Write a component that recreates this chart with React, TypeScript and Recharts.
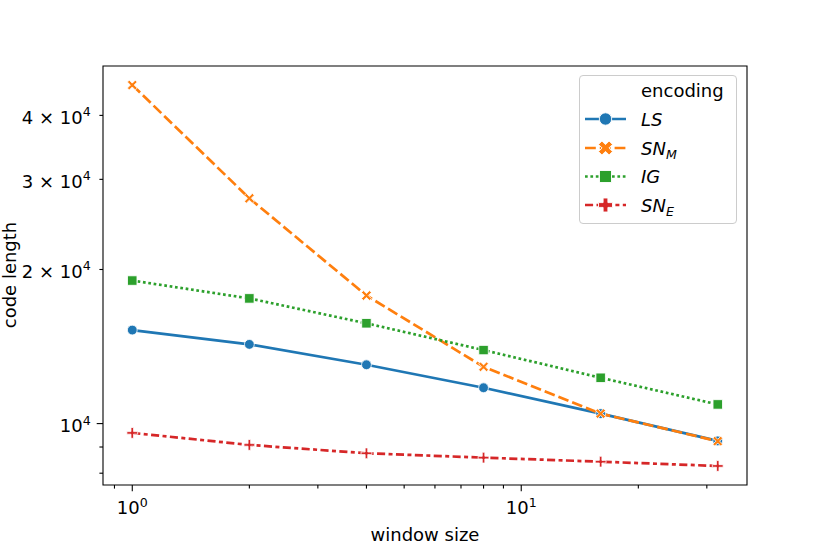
import { LineChart, Line, XAxis, YAxis, ReferenceArea, Legend } from 'recharts';

const FONT = '"DejaVu Sans", sans-serif';

// window sizes on the x axis
const windowSizes = [1, 2, 4, 8, 16, 32];

// code length per encoding
const lsValues = [15230, 14280, 13030, 11750, 10460, 9250];
const snmValues = [45850, 27550, 17790, 12910, 10460, 9240];
const igValues = [19030, 17560, 15700, 13920, 12290, 10900];
const sneValues = [9590, 9085, 8750, 8580, 8425, 8265];

// ticks
const xTicks = [0.9, 1, 2, 3, 4, 5, 6, 7, 8, 9, 10, 20, 30];
const xMajorTicks = [1, 10];
const yTicks = [8000, 9000, 10000, 20000, 30000, 40000];
const yMajorTicks = [10000];
const yLabelMantissa: Record<number, string> = { 10000: '', 20000: '2', 30000: '3', 40000: '4' };

type MarkerKind = 'circle' | 'x' | 'square' | 'plus';

const series = [
  { key: 'LS', values: lsValues, main: 'LS', sub: '', color: '#1f77b4', dash: undefined, marker: 'circle' as MarkerKind },
  { key: 'SN_M', values: snmValues, main: 'SN', sub: 'M', color: '#ff7f0e', dash: '10.8 4', marker: 'x' as MarkerKind },
  { key: 'IG', values: igValues, main: 'IG', sub: '', color: '#2ca02c', dash: '2.7 2.7', marker: 'square' as MarkerKind },
  { key: 'SN_E', values: sneValues, main: 'SN', sub: 'E', color: '#d62728', dash: '8.1 3.4 4 3.4', marker: 'plus' as MarkerKind },
];

const data = windowSizes.map((w, i) => {
  const row: Record<string, number> = { w };
  series.forEach((s) => (row[s.key] = s.values[i]));
  return row;
});

// matplotlib-like 5% margins in log space
function logPad(vals: number[], frac = 0.05): [number, number] {
  const lo = Math.log10(Math.min(...vals));
  const hi = Math.log10(Math.max(...vals));
  const r = hi - lo;
  return [Math.pow(10, lo - frac * r), Math.pow(10, hi + frac * r)];
}

const xDomain = logPad(windowSizes);
const yDomain = logPad(series.flatMap((s) => s.values));

function plusPoints(s: number, a: number, rot: number) {
  const pts = [
    [-a, -s], [a, -s], [a, -a], [s, -a], [s, a], [a, a],
    [a, s], [-a, s], [-a, a], [-s, a], [-s, -a], [-a, -a],
  ];
  const c = Math.cos(rot);
  const sn = Math.sin(rot);
  return pts.map(([x, y]) => `${x * c - y * sn},${x * sn + y * c}`).join(' ');
}

function Marker({ kind, cx, cy, color, big = false }: { kind: MarkerKind; cx: number; cy: number; color: string; big?: boolean }) {
  const sw = big ? 0.9 : 0.8;
  if (kind === 'circle') return <circle cx={cx} cy={cy} r={big ? 6.2 : 4.9} fill={color} stroke="#fff" strokeWidth={sw} />;
  if (kind === 'square') {
    const h = big ? 6 : 4.7;
    return <rect x={cx - h} y={cy - h} width={2 * h} height={2 * h} fill={color} stroke="#fff" strokeWidth={sw} />;
  }
  if (kind === 'x')
    return (
      <polygon
        transform={`translate(${cx},${cy})`}
        points={big ? plusPoints(7.5, 2.4, Math.PI / 4) : plusPoints(5.6, 1.35, Math.PI / 4)}
        fill={color}
        stroke="#fff"
        strokeWidth={sw}
      />
    );
  return (
    <polygon
      transform={`translate(${cx},${cy})`}
      points={big ? plusPoints(7, 2.4, 0) : plusPoints(5.4, 1.3, 0)}
      fill={color}
      stroke="#fff"
      strokeWidth={sw}
    />
  );
}

function makeDot(kind: MarkerKind, color: string) {
  return (props: any) => {
    const { cx, cy, index } = props;
    if (cx == null || cy == null) return <g key={index} />;
    return <Marker key={index} kind={kind} cx={cx} cy={cy} color={color} />;
  };
}

function XTick({ x, y, payload }: any) {
  const v = payload.value;
  const major = xMajorTicks.includes(v);
  return (
    <g>
      <line x1={x} x2={x} y1={y} y2={y + (major ? 6.3 : 3.6)} stroke="#000" strokeWidth={1.1} />
      {major && (
        <text x={x} y={y + 29} textAnchor="middle" fontSize={18} fontFamily={FONT} fill="#000">
          10<tspan dy={-7.5} fontSize={12.6}>{Math.round(Math.log10(v))}</tspan>
        </text>
      )}
    </g>
  );
}

function YTick({ x, y, payload }: any) {
  const v = payload.value;
  const major = yMajorTicks.includes(v);
  const m = yLabelMantissa[v];
  return (
    <g>
      <line x1={x} x2={x - (major ? 6.3 : 3.6)} y1={y} y2={y} stroke="#000" strokeWidth={1.1} />
      {m !== undefined && (
        <text x={x - 12.3} y={y + 8.5} textAnchor="end" fontSize={18} fontFamily={FONT} fill="#000">
          {m ? `${m} × 10` : '10'}
          <tspan dy={-7.5} fontSize={12.6}>4</tspan>
        </text>
      )}
    </g>
  );
}

function LegendBox() {
  const rows = [44, 73, 101.5, 130];
  return (
    <div
      style={{
        width: 158,
        height: 149,
        boxSizing: 'border-box',
        border: '1.3px solid #cccccc',
        borderRadius: 4,
        background: 'rgba(255,255,255,0.8)',
      }}
    >
      <svg width={156} height={147} style={{ display: 'block', position: 'absolute', left: 0, top: 0 }}>
        <text x={62} y={22} fontSize={18} fontFamily={FONT} fill="#000">
          encoding
        </text>
        {series.map((s, i) => (
          <g key={s.key}>
            <line x1={6} x2={47} y1={rows[i]} y2={rows[i]} stroke={s.color} strokeWidth={2.7} strokeDasharray={s.dash} />
            <Marker kind={s.marker} cx={26.5} cy={rows[i]} color={s.color} big />
            <text x={62} y={rows[i] + 6.5} fontSize={18} fontFamily={FONT} fontStyle="italic" fill="#000">
              {s.main}
              {s.sub && (
                <tspan dy={4} fontSize={12.6}>
                  {s.sub}
                </tspan>
              )}
            </text>
          </g>
        ))}
      </svg>
    </div>
  );
}

export default function App() {
  return (
    <div style={{ position: 'absolute', left: 0, top: 0, width: 830, height: 554, background: '#fff' }}>
      <LineChart width={830} height={554} data={data} margin={{ top: 66, right: 83, bottom: 0, left: 0 }}>
        <XAxis
          dataKey="w"
          type="number"
          scale="log"
          domain={xDomain}
          allowDataOverflow
          ticks={xTicks}
          interval={0}
          tick={<XTick />}
          tickLine={false}
          axisLine={false}
          tickSize={0}
          tickMargin={0}
          height={69}
        />
        <YAxis
          type="number"
          scale="log"
          domain={yDomain}
          allowDataOverflow
          ticks={yTicks}
          interval={0}
          tick={<YTick />}
          tickLine={false}
          axisLine={false}
          tickSize={0}
          tickMargin={0}
          width={103}
        />
        <Legend
          layout="vertical"
          align="center"
          verticalAlign="middle"
          content={<LegendBox />}
          wrapperStyle={{ position: 'absolute', left: 579, top: 75, width: 158, height: 149 }}
        />
        {series.map((s) => (
          <Line
            key={s.key}
            dataKey={s.key}
            name={s.key}
            type="linear"
            stroke={s.color}
            strokeWidth={2.7}
            strokeDasharray={s.dash}
            dot={makeDot(s.marker, s.color)}
            activeDot={false}
            isAnimationActive={false}
          />
        ))}
        <ReferenceArea
          x1={xDomain[0]}
          x2={xDomain[1]}
          y1={yDomain[0]}
          y2={yDomain[1]}
          fill="none"
          stroke="#000"
          strokeWidth={1.1}
          ifOverflow="visible"
        />
        <text x={425} y={541} textAnchor="middle" fontSize={18} fontFamily={FONT} fill="#000">
          window size
        </text>
        <text x={16} y={275} transform="rotate(-90 16 275)" textAnchor="middle" fontSize={18} fontFamily={FONT} fill="#000">
          code length
        </text>
      </LineChart>
    </div>
  );
}
